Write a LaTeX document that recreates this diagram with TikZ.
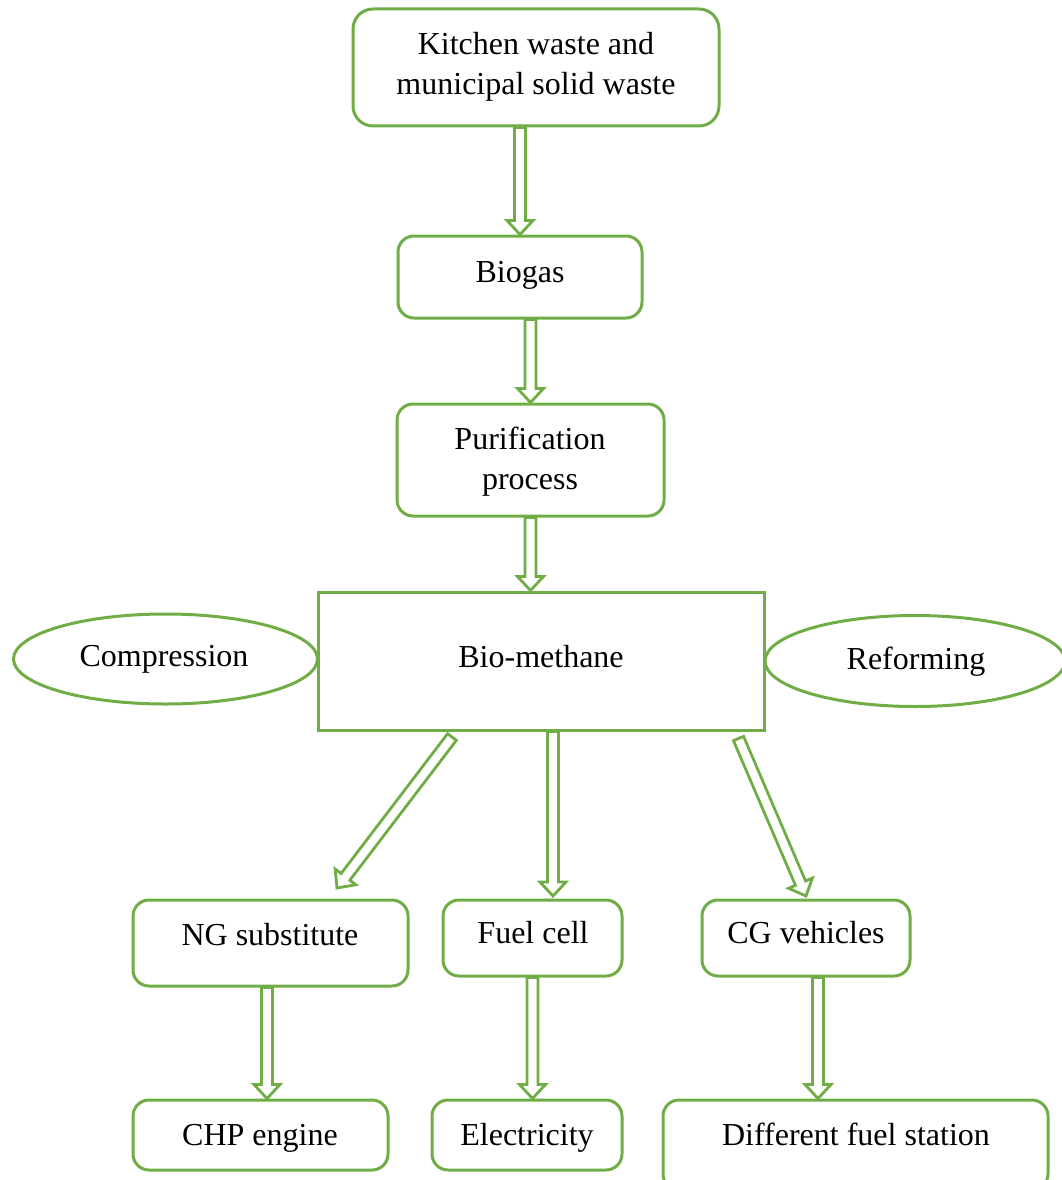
\documentclass[tikz,border=0pt]{standalone}
\usepackage{fontspec}
\setmainfont{Liberation Serif}
\usetikzlibrary{calc,shapes.geometric}
\definecolor{grn}{HTML}{70AD47}
\pgfdeclarelayer{background}
\pgfsetlayers{background,main}
\tikzset{
  box/.style={draw=grn, line width=3pt, rounded corners=16pt, inner sep=0pt},
  sqbox/.style={draw=grn, line width=3pt, inner sep=0pt},
  oval/.style={ellipse, draw=grn, line width=3pt, inner sep=0pt},
  txt/.style={font=\fontsize{32}{40}\selectfont, inner sep=0pt, align=center},
  btxt/.style={txt, anchor=base},
  hollowline/.style={draw=grn, line width=2.8pt, fill=white, line join=miter},
}
\newcommand\hollowarrow[2]{%
  \path ($(#2)!14pt!(#1)$) coordinate (hb);
  \draw[hollowline] ($(#1)!5.5pt!90:(#2)$) -- ($(hb)!5.5pt!-90:(#1)$) -- ($(hb)!13pt!-90:(#1)$) -- (#2)
    -- ($(hb)!13pt!90:(#1)$) -- ($(hb)!5.5pt!90:(#1)$) -- ($(#1)!5.5pt!-90:(#2)$) -- cycle;}
\begin{document}
\begin{tikzpicture}[x=1pt, y=-1pt]
\useasboundingbox (0,0) rectangle (1062,1180);

% boxes
\node[box, minimum width=366pt, minimum height=117pt, rounded corners=20pt] (kitchen) at (536,67.5) {};
\node[txt] at (536,67) {Kitchen waste and\\municipal solid waste};

\node[box, minimum width=244pt, minimum height=82pt] (biogas) at (520,277) {};
\node[btxt] at (520,282) {Biogas};

\node[box, minimum width=267pt, minimum height=112pt] (purif) at (530.5,460) {};
\node[txt] at (530,462) {Purification\\process};

\node[sqbox, minimum width=446pt, minimum height=138pt] (bm) at (541,661) {};
\node[btxt] at (541,667) {Bio-methane};

\node[oval, minimum width=304pt, minimum height=90pt] (comp) at (165.5,659) {};
\node[btxt] at (164,666) {Compression};

\node[oval, minimum width=300pt, minimum height=91pt] (ref) at (915,661) {};
\node[btxt] at (916,669) {Reforming};

\node[box, minimum width=275pt, minimum height=86pt] (ng) at (270.5,943) {};
\node[btxt] at (270,945) {NG substitute};

\node[box, minimum width=179pt, minimum height=76pt] (fc) at (532.5,938) {};
\node[btxt] at (533,943) {Fuel cell};

\node[box, minimum width=208pt, minimum height=76pt] (cg) at (806,938) {};
\node[btxt] at (806,943) {CG vehicles};

\node[box, minimum width=255pt, minimum height=70pt] (chp) at (260.5,1135) {};
\node[btxt] at (260,1145) {CHP engine};

\node[box, minimum width=190pt, minimum height=70pt] (el) at (527,1135) {};
\node[btxt] at (527,1145) {Electricity};

\node[box, minimum width=385pt, minimum height=90pt] (dfs) at (855.5,1145) {};
\node[btxt] at (856,1145) {Different fuel station};

% connector end points
\coordinate (s1) at (kitchen.south -| biogas.north);
\coordinate (e1) at (biogas.north);
\coordinate (s2) at (biogas.south -| purif.north);
\coordinate (e2) at (purif.north);
\coordinate (s3) at (purif.south);
\coordinate (e3) at (purif.south |- bm.north);
\coordinate (s4) at (452,737);
\coordinate (e4) at (337,888);
\coordinate (s5) at ($(bm.south)+(12,0)$);
\coordinate (e5) at (553,896);
\coordinate (s6) at (738.5,738.5);
\coordinate (e6) at (806,896);
\coordinate (s7) at ($(ng.south)+(-3.5,0)$);
\coordinate (e7) at (s7 |- chp.north);
\coordinate (s8) at (fc.south);
\coordinate (e8) at (fc.south |- el.north);
\coordinate (s9) at ($(cg.south)+(12,0)$);
\coordinate (e9) at (s9 |- dfs.north);

\begin{pgfonlayer}{background}
\hollowarrow{s1}{e1}
\hollowarrow{s2}{e2}
\hollowarrow{s3}{e3}
\hollowarrow{s4}{e4}
\hollowarrow{s5}{e5}
\hollowarrow{s6}{e6}
\hollowarrow{s7}{e7}
\hollowarrow{s8}{e8}
\hollowarrow{s9}{e9}
\end{pgfonlayer}
\end{tikzpicture}
\end{document}
